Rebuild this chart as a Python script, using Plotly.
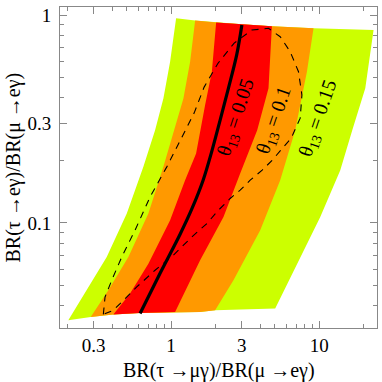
import math
import plotly.graph_objects as go

# ---- data: band outlines in (BR(tau->mu g)/BR(mu->e g), BR(tau->e g)/BR(mu->e g)) ----
green_x = [0.2023, 0.2694, 0.3677, 0.5021, 0.6499, 0.7795, 0.8870, 0.9846, 1.081,
           1.453, 2.014, 3.004, 4.791, 9.152, 23.27,
           20.46, 16.71, 13.87, 10.16, 7.069, 5.044,
           1.983, 1.570, 0.6173, 0.4075, 0.2866]
green_y = [0.0340, 0.0474, 0.0686, 0.1110, 0.1860, 0.2794, 0.3971, 0.5958, 0.9641,
           0.9409, 0.9203, 0.9020, 0.8821, 0.8630, 0.8468,
           0.4437, 0.2794, 0.1793, 0.1069, 0.0637, 0.0387,
           0.0380, 0.0373, 0.0369, 0.0363, 0.0353]

orange_x = [0.2866, 0.3771, 0.5147, 0.7024, 0.8870, 1.0478, 1.211, 1.344, 1.453,
            2.014, 3.004, 4.791, 9.152,
            8.260, 7.440, 6.885, 5.451, 3.995, 2.636, 1.983,
            1.570, 0.6173, 0.4075]
orange_y = [0.0353, 0.0474, 0.0686, 0.1110, 0.1860, 0.2794, 0.3971, 0.5958, 0.9409,
            0.9203, 0.9020, 0.8821, 0.8630,
            0.5333, 0.3686, 0.2794, 0.1605, 0.0922, 0.0530, 0.0380,
            0.0373, 0.0369, 0.0363]

red_x = [0.4075, 0.5284, 0.7024, 0.9846, 1.243, 1.475, 1.697, 1.884, 2.014,
         3.004, 4.791,
         4.545, 3.812, 2.926, 2.257, 1.570, 1.380, 1.0643,
         0.6173]
red_y = [0.0363, 0.0457, 0.0637, 0.1030, 0.1605, 0.2158, 0.3686, 0.5333, 0.9203,
         0.9020, 0.8821,
         0.4437, 0.2794, 0.1729, 0.1069, 0.0661, 0.0550, 0.0373,
         0.0369]

central_x = [0.6173, 0.8426, 1.150, 1.387, 1.645, 1.892, 2.143, 2.439, 2.779, 3.004]
central_y = [0.0367, 0.0572, 0.0882, 0.1177, 0.1605, 0.2239, 0.3122, 0.4452, 0.6489, 0.8952]

dashed_x = [0.3488, 0.3581, 0.3975, 0.4644, 0.5710, 0.7213, 0.9353, 1.211, 1.430, 1.671,
            2.078, 2.665, 3.510, 4.545, 5.451, 6.370, 7.246, 7.640, 7.440, 6.469,
            4.814, 4.120, 3.419, 2.926, 2.504, 2.087, 1.743, 1.380, 1.036, 0.7795,
            0.5863, 0.4761, 0.4075, 0.3488]
dashed_y = [0.0363, 0.0440, 0.0530, 0.0686, 0.0922, 0.1334, 0.1860, 0.2644, 0.3374, 0.4500,
            0.5873, 0.7330, 0.8468, 0.8630, 0.7861, 0.6657, 0.5333, 0.4120, 0.3191, 0.2557,
            0.2003, 0.1793, 0.1605, 0.1437, 0.1311, 0.1151, 0.0993, 0.0856, 0.0699, 0.0592,
            0.0492, 0.0424, 0.0380, 0.0363]

label_text = ["θ<sub>13</sub> = 0.05", "θ<sub>13</sub> = 0.1", "θ<sub>13</sub> = 0.15"]
label_x = [2.749, 4.966, 9.845]
label_y = [0.3227, 0.3122, 0.3191]
label_angle = [-72, -71, -71]

x_tickvals = [0.3, 1, 3, 10]
x_ticktext = ["0.3", "1", "3", "10"]
x_minor = [0.2, 0.4, 0.5, 0.6, 0.7, 0.8, 0.9, 2, 4, 5, 6, 7, 8, 9, 20]
y_tickvals = [0.1, 0.3, 1]
y_ticktext = ["0.1", "0.3", "1"]
y_minor = [0.04, 0.05, 0.06, 0.07, 0.08, 0.09, 0.2, 0.4, 0.5, 0.6, 0.7, 0.8, 0.9]

SERIF = "Liberation Serif"
GREEN, ORANGE, RED = "#CCFF00", "#FF9900", "#FF0000"
FRAME = "#888888"

fig = go.Figure()
for xs, ys, col in [(green_x, green_y, GREEN), (orange_x, orange_y, ORANGE), (red_x, red_y, RED)]:
    fig.add_trace(go.Scatter(x=xs + xs[:1], y=ys + ys[:1], mode="lines", fill="toself",
                             fillcolor=col, line=dict(width=0, color=col),
                             hoverinfo="skip", showlegend=False))
fig.add_trace(go.Scatter(x=dashed_x, y=dashed_y, mode="lines",
                         line=dict(color="black", width=1.1, dash="7px,6px"),
                         showlegend=False, hoverinfo="skip"))
fig.add_trace(go.Scatter(x=central_x, y=central_y, mode="lines",
                         line=dict(color="black", width=3.2, shape="spline"),
                         showlegend=False, hoverinfo="skip"))

# annotations on log axes take log10 coordinates
for t, lx, ly, ang in zip(label_text, label_x, label_y, label_angle):
    fig.add_annotation(x=math.log10(lx), y=math.log10(ly), xref="x", yref="y", text=t,
                       showarrow=False, textangle=ang,
                       font=dict(family=SERIF, size=20, color="black"),
                       xanchor="center", yanchor="middle")

fig.add_annotation(x=0.5, y=0, xref="paper", yref="paper", yanchor="middle",
                   yshift=-42, showarrow=False,
                   text="BR(τ →μγ)/BR(μ →eγ)",
                   font=dict(family=SERIF, size=20, color="black"))
fig.add_annotation(x=0, y=0.5, xref="paper", yref="paper", xanchor="center",
                   xshift=-47, showarrow=False, textangle=-90,
                   text="BR(τ →eγ)/BR(μ →eγ)",
                   font=dict(family=SERIF, size=20, color="black"))

axis_common = dict(type="log", showline=True, linecolor=FRAME, linewidth=1,
                   mirror="allticks", ticks="inside", ticklen=7, tickcolor=FRAME,
                   tickwidth=1, showgrid=False, zeroline=False,
                   tickfont=dict(family=SERIF, size=19, color="black"))

fig.update_xaxes(range=[-0.75, 1.39], tickmode="array", tickvals=x_tickvals,
                 ticktext=x_ticktext,
                 minor=dict(ticks="inside", ticklen=4, tickcolor=FRAME,
                            tickmode="array", tickvals=x_minor, showgrid=False),
                 **axis_common)
fig.update_yaxes(range=[-1.5055, 0.0385], tickmode="array", tickvals=y_tickvals,
                 ticktext=y_ticktext, ticklabelstandoff=4,
                 minor=dict(ticks="inside", ticklen=4, tickcolor=FRAME,
                            tickmode="array", tickvals=y_minor, showgrid=False),
                 **axis_common)

fig.update_layout(width=382, height=382,
                  margin=dict(l=60, r=5, t=7, b=54, autoexpand=False),
                  plot_bgcolor="white", paper_bgcolor="white",
                  showlegend=False)

fig.write_html("out.html", config={"displayModeBar": False},
               post_script="document.body.style.margin='0';document.body.style.padding='0';")
